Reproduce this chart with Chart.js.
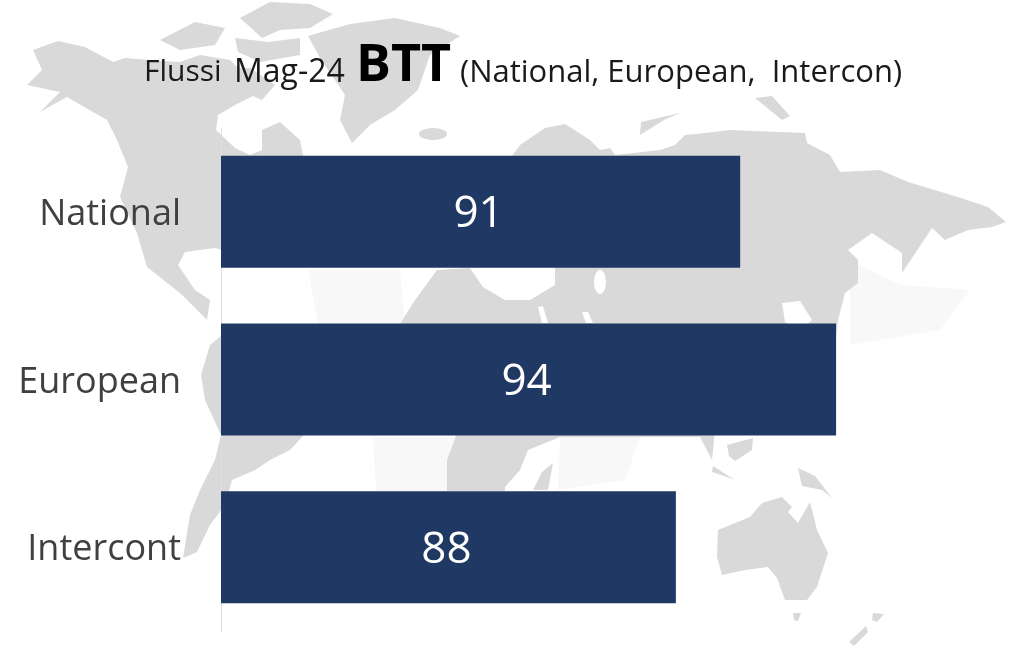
<!DOCTYPE html>
<html>
<head>
<meta charset="utf-8">
<title>Flussi Mag-24 BTT</title>
<script src="https://cdn.jsdelivr.net/npm/chart.js@4"></script>
<style>
  html, body { margin: 0; padding: 0; background: #fff; overflow: hidden; }
  #wrap { position: relative; width: 1011px; height: 660px; font-family: "Open Sans", sans-serif; }
  #map { position: absolute; left: 0; top: 0; filter: blur(0.6px); }
  #line-chart { position: absolute; left: 0; top: 0; }
  .t { position: absolute; white-space: nowrap; color: #1a1a1a; line-height: 1; }
</style>
</head>
<body>
<div id="wrap">
  <!-- world map behind the chart, rough outline -->
  <svg id="map" width="1011" height="660" viewBox="0 0 1011 660">
    <g fill="#f8f8f8">
      <polygon points="308,270 400,270 405,324 318,324"/>
      <polygon points="373,437 456,437 447,491 376,491"/>
      <polygon points="560,437 640,437 625,480 558,490"/>
      <polygon points="850,260 900,285 970,290 940,330 850,345"/>
    </g>
    <g fill="#d9d9d9">
      <!-- north america -->
      <polygon points="33,50 58,41 85,47 113,62 125,58 150,60 180,62 200,55 230,60 245,75 255,95 235,105 218,115 216,130 235,148 250,155 262,150 262,130 280,122 300,140 303,156 303,200 260,250 222,250 215,248 185,252 178,265 195,290 210,300 207,320 180,293 147,267 137,233 120,197 128,167 117,140 107,120 67,97 40,112 60,92 27,85 42,70"/>
      <!-- arctic islands -->
      <polygon points="160,40 195,22 225,28 215,45 180,50"/>
      <polygon points="240,18 270,2 310,4 333,14 310,28 280,30 262,38"/>
      <polygon points="235,38 268,42 300,38 300,55 260,62 238,52"/>
      <polygon points="215,68 250,68 275,85 262,100 240,90"/>
      <!-- greenland -->
      <polygon points="308,36 350,24 395,18 440,28 460,36 430,55 418,90 395,110 370,125 352,143 340,120 345,95 320,58"/>
      <ellipse cx="433" cy="134" rx="14" ry="6"/>
      <!-- south america -->
      <polygon points="222,335 210,345 201,375 205,400 221,435 215,460 200,490 190,515 183,558 197,552 210,525 225,505 232,480 255,470 270,460 290,450 303,436 305,400 270,345"/>
      <!-- africa and eurasia -->
      <polygon points="400,324 415,300 437,270 470,268 483,287 505,300 530,300 555,285 555,268 512,156 520,145 545,128 565,124 590,140 600,150 610,148 615,155 660,150 675,145 685,135 705,133 730,130 805,133 807,143 830,155 840,172 880,170 908,182 958,197 988,207 1006,222 992,227 968,230 945,240 932,228 902,273 902,253 872,233 848,250 858,260 858,283 845,293 838,320 835,345 835,430 715,430 712,460 700,437 560,437 528,450 520,470 505,487 505,491 447,491 447,460 456,436 430,400"/>
      <polygon points="641,122 680,113 664,120 640,135"/>
      <polygon points="755,98 772,96 790,116 782,120"/>
      <!-- sumatra, borneo, guinea -->
      <polygon points="727,445 753,438 752,450 735,461 729,456"/>
      <polygon points="713,466 735,480 730,478 712,472"/>
      <polygon points="798,468 815,476 832,498 822,490 802,486"/>
      <polygon points="533,490 542,472 553,463 548,490"/>
      <!-- australia -->
      <polygon points="718,530 750,517 762,503 782,497 792,507 788,512 798,523 810,502 817,530 828,553 817,587 807,600 785,600 777,578 768,567 745,570 722,575 717,557"/>
      <polygon points="793,613 801,613 798,621 794,620"/>
      <polygon points="873,613 884,614 877,622 872,620"/>
      <polygon points="849,642 866,626 868,632 854,646"/>
    </g>
    <g fill="#ffffff">
      <polygon points="225,275 245,285 250,300 235,310 225,295"/>
      <ellipse cx="600" cy="282" rx="6" ry="12"/>
      <polygon points="538,307 543,306 548,323 542,323"/>
      <polygon points="582,312 588,312 593,323 586,323"/>
      <polygon points="782,303 800,301 812,320 800,330 785,322"/>
    </g>
  </svg>
  <canvas id="line-chart" width="1011" height="660"></canvas>
  <span class="t" style="left:144px;top:55px;font-size:30px">Flussi</span>
  <span class="t" style="left:234px;top:54px;font-size:32px">Mag-24</span>
  <span class="t" style="left:356px;top:35px;font-size:52px;font-weight:bold;color:#000">BTT</span>
  <span class="t" style="left:460px;top:55px;font-size:31px">(National, European,&nbsp; Intercon)</span>
</div>

<script>
// Variables and Lists
const categories = ["National", "European", "Intercont"];
const flussi = [90.57, 94, 88.27];
const valueLabels = ["91", "94", "88"];
const axisMin = 72;
const axisMax = 96;

// writes the value in the middle of each bar
const barLabels = {
    id: "barLabels",
    afterDraw: function (chart) {
        const ctx = chart.ctx;
        const bars = chart.getDatasetMeta(0).data;
        ctx.save();
        ctx.font = '44px "Open Sans", sans-serif';
        ctx.fillStyle = "#ffffff";
        ctx.textAlign = "center";
        ctx.textBaseline = "middle";
        for (let i = 0; i < bars.length; i++) {
            const left = chart.scales.x.getPixelForValue(axisMin);
            const right = chart.scales.x.getPixelForValue(flussi[i]);
            ctx.fillText(valueLabels[i], (left + right) / 2 - 2, bars[i].y + 3);
        }
        ctx.restore();
    }
};

new Chart(document.getElementById("line-chart"), {
    type: "bar",
    data: {
        labels: categories,
        datasets: [{
            data: flussi,
            backgroundColor: "#203864",
            barPercentage: 1,
            categoryPercentage: 0.668
        }]
    },
    options: {
        indexAxis: "y",
        responsive: false,
        animation: false,
        layout: { padding: { top: 128, bottom: 29, left: 0, right: 119 } },
        plugins: {
            legend: { display: false },
            tooltip: { enabled: false }
        },
        scales: {
            x: {
                display: false,
                min: axisMin,
                max: axisMax
            },
            y: {
                afterFit: function (scale) {
                    scale.width = 221;
                    scale.paddingTop = 0;
                    scale.paddingBottom = 0;
                },
                border: { color: "#dedede", width: 1 },
                grid: { display: false, drawTicks: false },
                ticks: {
                    color: "#404040",
                    padding: 40,
                    labelOffset: 3,
                    font: { family: "Open Sans", size: 36 }
                }
            }
        }
    },
    plugins: [barLabels]
});
</script>
</body>
</html>
